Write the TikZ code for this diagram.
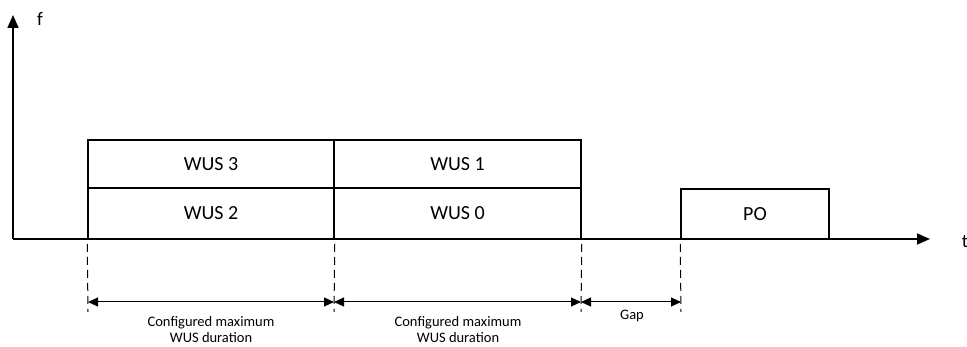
\documentclass[tikz,border=0pt]{standalone}
\usepackage{fontspec}
\setmainfont{Carlito}
\usetikzlibrary{arrows.meta}
\begin{document}
\begin{tikzpicture}[x=1pt,y=-1pt,
  box/.style={draw,line width=1.6pt,inner sep=0pt,font=\fontsize{20}{22}\selectfont},
  axis/.style={line width=1.6pt,-{Triangle[length=13pt,width=11pt]}},
  dim/.style={line width=1pt,{Triangle[length=10pt,width=9pt]}-{Triangle[length=10pt,width=9pt]}},
  guide/.style={line width=1pt,dash pattern=on 8pt off 5pt,dash phase=-4pt},
  lbl/.style={font=\fontsize{14.5}{16}\selectfont,align=center,inner sep=0pt}]
\useasboundingbox (0,0) rectangle (967,347);
\coordinate (o) at (13,239);
\coordinate (ytip) at (13,15);
\coordinate (xtip) at (930,239);
\draw[axis] (o) -- (ytip);
\draw[axis] (o) -- (xtip);
\node[font=\fontsize{19}{20}\selectfont] (f) at (40,19) {f};
\node[font=\fontsize{19}{20}\selectfont] (t) at (965,242) {t};
\node[box,minimum width=246pt,minimum height=51pt] (w2) at (211,213.5) {WUS 2};
\node[box,minimum width=246pt,minimum height=48pt] (w3) at (211,164) {WUS 3};
\node[box,minimum width=247pt,minimum height=51pt] (w0) at (457.5,213.5) {WUS 0};
\node[box,minimum width=247pt,minimum height=48pt] (w1) at (457.5,164) {WUS 1};
\node[box,minimum width=148pt,minimum height=50pt] (po) at (755,214) {PO};
\coordinate (d1) at (88,312);
\coordinate (d2) at (334,312);
\coordinate (d3) at (581,312);
\coordinate (d4) at (681,312);
\draw[guide] (w2.south west) -- (d1);
\draw[guide] (w2.south east) -- (d2);
\draw[guide] (w0.south east) -- (d3);
\draw[guide] (po.south west) -- (d4);
\coordinate (a1) at (88,302);
\coordinate (a2) at (334,302);
\coordinate (a3) at (581,302);
\coordinate (a4) at (681,302);
\draw[dim] (a1) -- (a2);
\draw[dim] (a2) -- (a3);
\draw[dim] (a3) -- (a4);
\node[lbl] (l1) at (211,330) {Configured maximum\\WUS duration};
\node[lbl] (l2) at (458,330) {Configured maximum\\WUS duration};
\node[lbl] (l3) at (632,316) {Gap};
\end{tikzpicture}
\end{document}
